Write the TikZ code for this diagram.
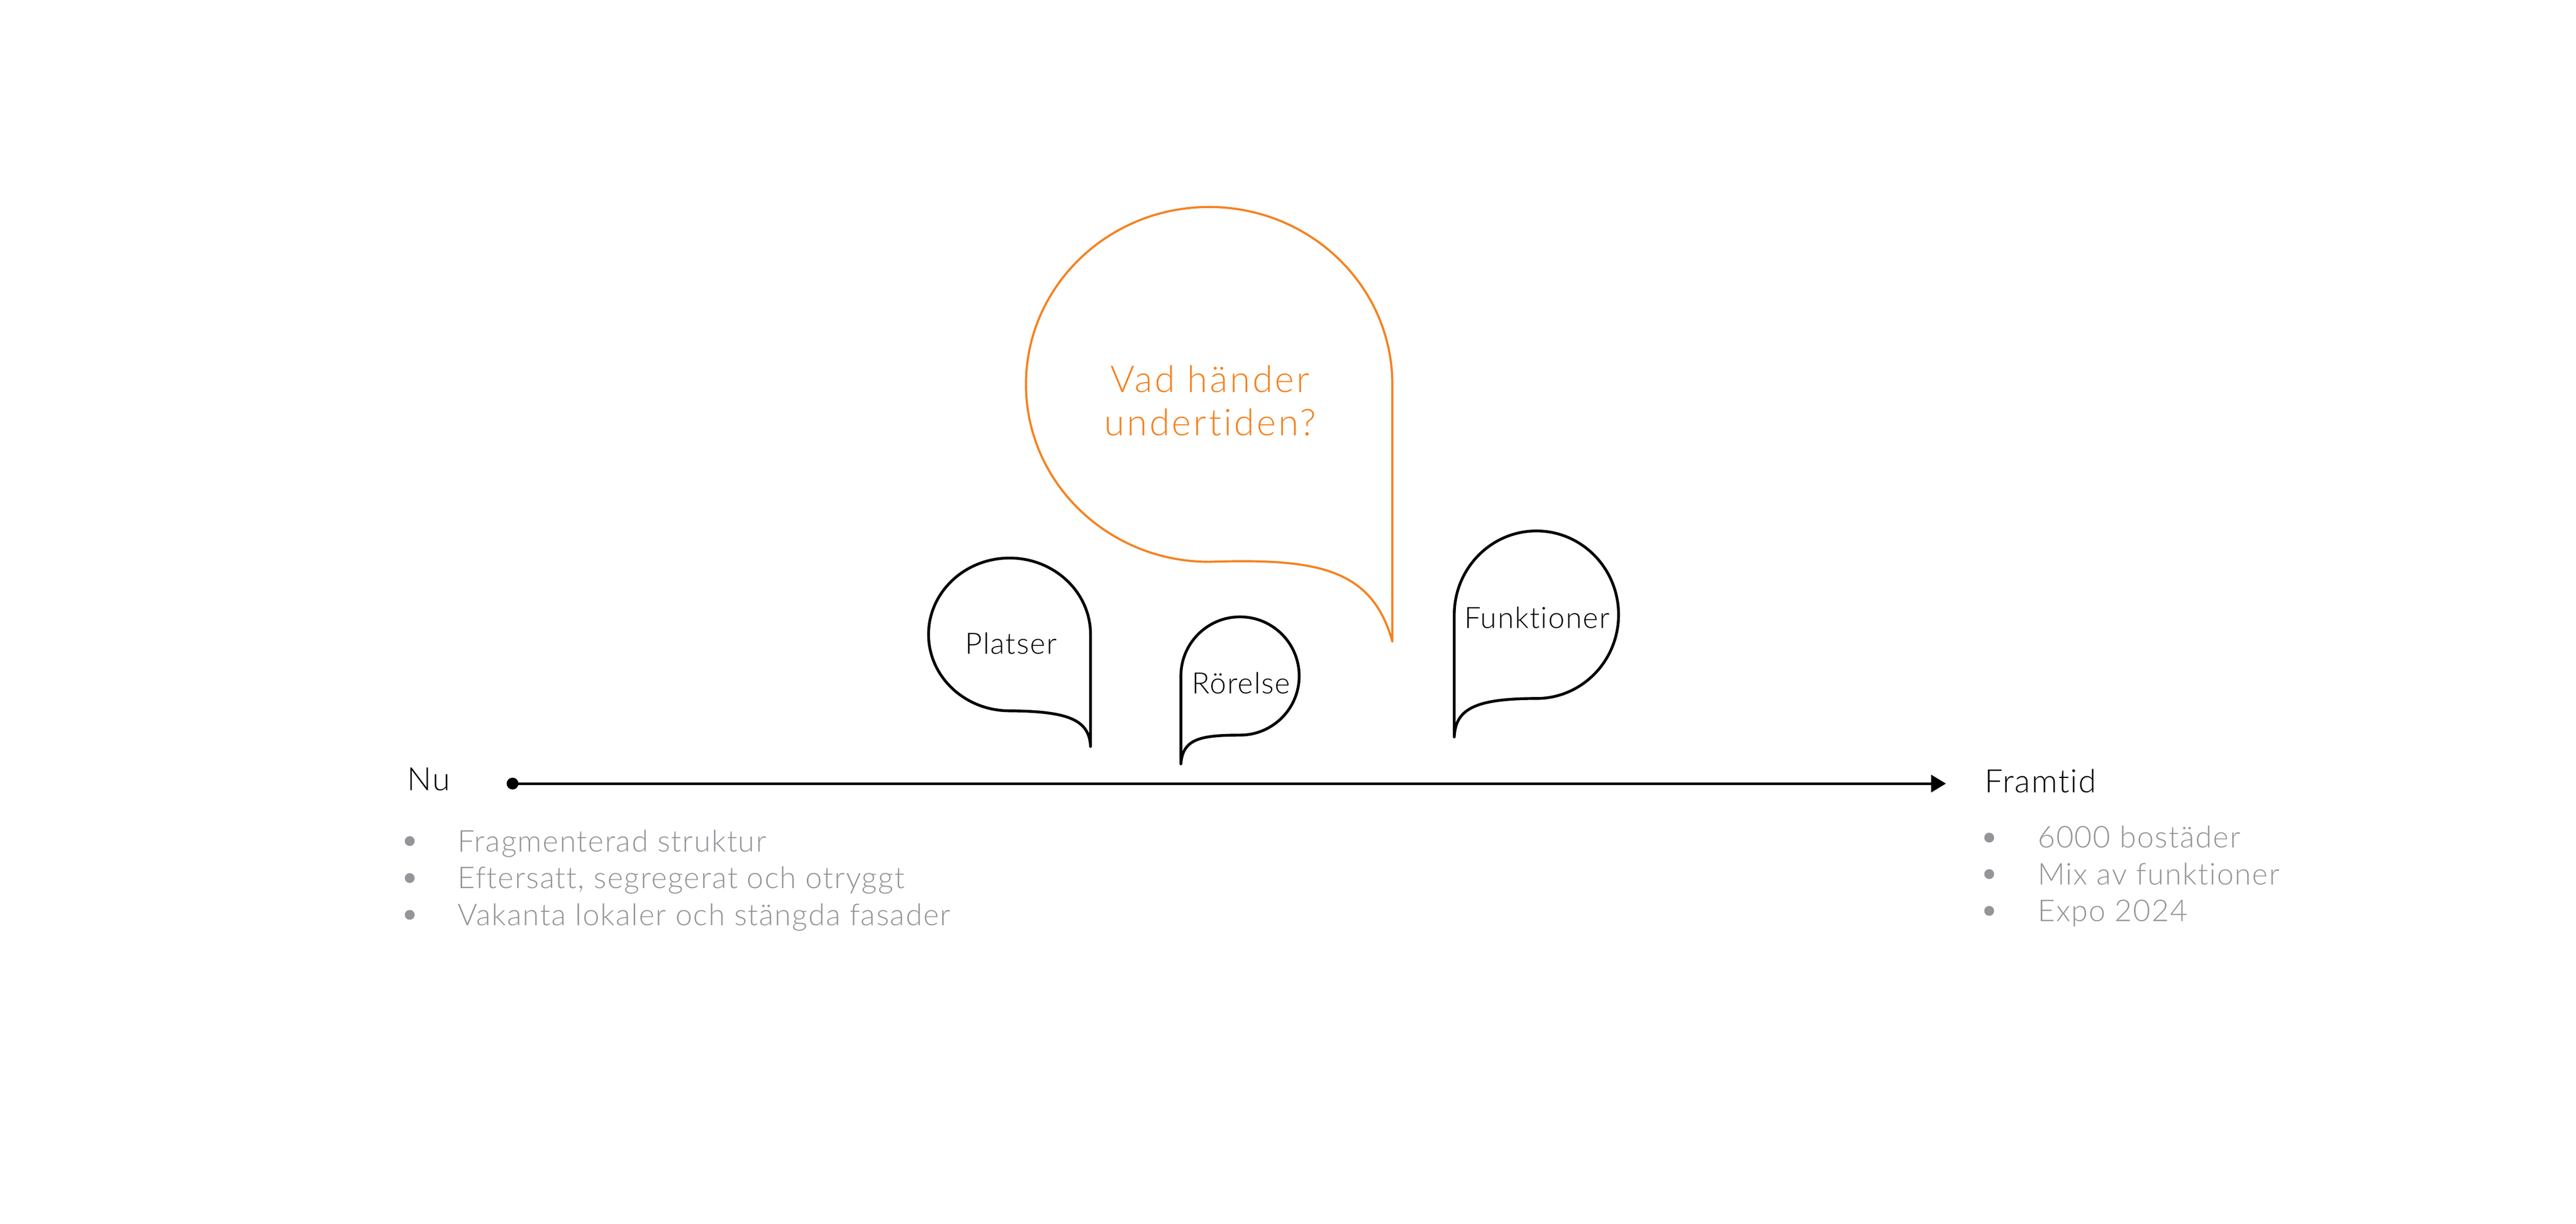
\documentclass[tikz,border=0pt]{standalone}
\usepackage{fontspec}
\setmainfont{Lato}[UprightFont=* Light, Ligatures=NoCommon, LetterSpace=3.3]
\newfontfamily\qfont{Lato}[UprightFont=* Light, Ligatures=NoCommon, LetterSpace=6]
\usetikzlibrary{arrows.meta}
\definecolor{qorange}{HTML}{F58220}
\definecolor{qgray}{HTML}{939598}
\tikzset{
  bubble/.style={draw=black, line width=1.7pt, line join=round},
  qbubble/.style={draw=qorange, line width=1.3pt, line join=round},
  label/.style={inner sep=0pt, anchor=base, font=\fontsize{17.9}{20}\selectfont},
  endlabel/.style={inner sep=0pt, anchor=base west, font=\fontsize{19.6}{22}\selectfont},
  blist/.style={inner sep=0pt, anchor=base west, align=left, text=qgray, font=\fontsize{18.3}{22.4}\selectfont},
  bullet/.style={fill=qgray},
}
\begin{document}
\begin{tikzpicture}[x=1pt,y=-1pt]
\useasboundingbox (0,0) rectangle (1568,744.9);
% orange question bubble
\draw[qbubble] (847.5,234) arc[start angle=0, end angle=-270, x radius=111.5, y radius=108]
  .. controls (800,340) and (835,345) .. (847.5,390.6) -- cycle;
\node[inner sep=0pt, anchor=base, align=center, text=qorange,
  font=\qfont\fontsize{22.5}{26.5}\selectfont] (q) at (736.6,265.2) {Vad händer\\undertiden?};
% Platser
\draw[bubble] (663.8,386.2) arc[start angle=0, end angle=-270, x radius=49.3, y radius=46.5]
  .. controls (650,433) and (663,438) .. (663.8,454.4) -- cycle;
\node[label] (platser) at (615.4,398.2) {Platser};
% Rörelse
\draw[bubble] (718.8,411.5) arc[start angle=180, end angle=450, radius=36]
  .. controls (730,447.5) and (720,450) .. (718.8,465) -- cycle;
\node[label] (rorelse) at (755.5,422.3) {Rörelse};
% Funktioner
\draw[bubble] (885.2,374.2) arc[start angle=180, end angle=450, x radius=50, y radius=51]
  .. controls (897,425.2) and (886,432) .. (885.2,448.6) -- cycle;
\node[label] (funk) at (935.5,382.4) {Funktioner};
% timeline
\coordinate (start) at (312,477);
\coordinate (end) at (1184.5,477);
\fill (start) circle[radius=3.6];
\draw[line width=1.6pt, -{Triangle[length=9pt, width=10.4pt]}] (start) -- (end);
\node[endlabel] (nu) at (247.7,481.2) {Nu};
\node[endlabel] (framtid) at (1208,482.5) {Framtid};
% lists
\foreach \y in {512,534.5,556.9} \fill[bullet] (249.4,\y) circle[radius=3];
\node[blist] (nulist) at (278.5,563.3)
  {Fragmenterad struktur\\
   Eftersatt, segregerat och otryggt\\
   Vakanta lokaler och stängda fasader};
\foreach \y in {509.9,532.1,554.5} \fill[bullet] (1210.8,\y) circle[radius=3];
\node[blist] (framlist) at (1240.2,560.9)
  {6000 bostäder\\
   Mix av funktioner\\
   Expo 2024};
\end{tikzpicture}
\end{document}
